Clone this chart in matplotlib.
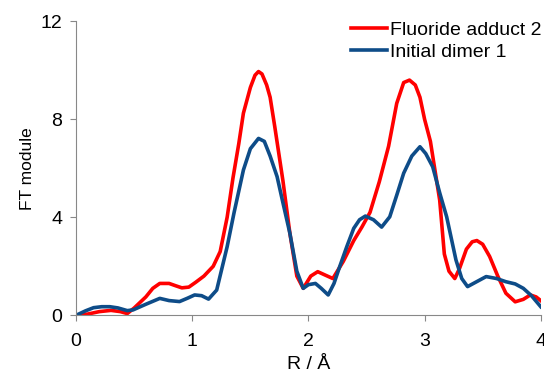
import numpy as np
import matplotlib.pyplot as plt

plt.rcParams['font.family'] = ['Liberation Sans', 'DejaVu Sans']

# Fluoride adduct 2
r_red = [0, 0.1, 0.2, 0.3, 0.38, 0.44, 0.5, 0.6, 0.66, 0.72, 0.8, 0.86, 0.91, 0.97,
         1.03, 1.1, 1.18, 1.24, 1.30, 1.35, 1.40, 1.44, 1.50, 1.54, 1.57, 1.60, 1.64, 1.67, 1.71,
         1.78, 1.84, 1.90, 1.955, 2.02, 2.08, 2.14, 2.21, 2.30, 2.39, 2.46, 2.53, 2.61,
         2.69, 2.76, 2.82, 2.87, 2.92, 2.96, 3.00, 3.05, 3.13, 3.17, 3.21, 3.26, 3.30,
         3.36, 3.41, 3.45, 3.50, 3.56, 3.63, 3.70, 3.78, 3.85, 3.91, 3.96, 4.0]
ft_red = [0, 0.05, 0.15, 0.2, 0.15, 0.07, 0.3, 0.75, 1.1, 1.3, 1.3, 1.2, 1.12, 1.15,
          1.35, 1.6, 2.0, 2.6, 4.0, 5.6, 7.0, 8.25, 9.3, 9.8, 9.95, 9.85, 9.4, 8.9, 7.7,
          5.5, 3.35, 1.6, 1.1, 1.6, 1.78, 1.65, 1.5, 2.2, 3.05, 3.6, 4.2, 5.45,
          6.9, 8.65, 9.5, 9.6, 9.4, 8.9, 8.0, 7.1, 4.7, 2.5, 1.8, 1.5, 1.9,
          2.7, 3.0, 3.05, 2.9, 2.4, 1.6, 0.9, 0.55, 0.65, 0.83, 0.75, 0.6]

# Initial dimer 1
r_blue = [0, 0.08, 0.15, 0.22, 0.29, 0.36, 0.44, 0.49, 0.6, 0.72, 0.8, 0.89, 0.96,
          1.02, 1.08, 1.14, 1.21, 1.3, 1.36, 1.44, 1.5, 1.57, 1.62, 1.67, 1.73, 1.78,
          1.84, 1.9, 1.955, 2.0, 2.06, 2.11, 2.17, 2.22, 2.27, 2.33, 2.39, 2.44, 2.49,
          2.56, 2.63, 2.70, 2.76, 2.82, 2.89, 2.96, 3.01, 3.07, 3.13, 3.19, 3.27, 3.32,
          3.37, 3.44, 3.53, 3.62, 3.70, 3.78, 3.85, 3.92, 4.0]
ft_blue = [0, 0.18, 0.31, 0.35, 0.35, 0.3, 0.19, 0.22, 0.45, 0.69, 0.6, 0.56, 0.7,
           0.83, 0.8, 0.66, 1.03, 2.8, 4.2, 5.93, 6.8, 7.22, 7.1, 6.5, 5.66, 4.6,
           3.35, 1.8, 1.1, 1.25, 1.3, 1.1, 0.83, 1.3, 2.0, 2.8, 3.55, 3.9, 4.05,
           3.9, 3.6, 4.02, 4.9, 5.8, 6.5, 6.88, 6.6, 6.06, 5.0, 4.02, 2.26, 1.5,
           1.17, 1.35, 1.58, 1.5, 1.37, 1.28, 1.1, 0.8, 0.35]

fig = plt.figure(figsize=(5.44, 3.74), dpi=100)
ax = fig.add_axes([0.14, 0.157, 0.854, 0.786])

ax.plot(r_red, ft_red, color='#ff0000', linewidth=2.6, label='Fluoride adduct 2')
ax.plot(r_blue, ft_blue, color='#0e4c88', linewidth=2.6, label='Initial dimer 1')

ax.set_xlim(0, 4)
ax.set_ylim(0, 12)
ax.set_xticks([0, 1, 2, 3, 4])
ax.set_yticks([0, 4, 8, 12])
ax.tick_params(labelsize=14, length=4, color='#888888', direction='out')
ax.tick_params(axis='x', pad=9)
ax.tick_params(axis='y', pad=6)
for s in ['top', 'right']:
    ax.spines[s].set_visible(False)
for s in ['left', 'bottom']:
    ax.spines[s].set_color('#888888')

ax.set_xlabel('R / Å', fontsize=14, labelpad=4)
ax.set_ylabel('FT module', fontsize=12.5, labelpad=4)

ax.legend(loc='upper right', bbox_to_anchor=(542 / 544, 1 - 21 / 374), bbox_transform=fig.transFigure,
          frameon=False, fontsize=14, borderpad=0, borderaxespad=0,
          handlelength=1.85, handletextpad=0.2, labelspacing=0.25)

fig.savefig('out.png', dpi=100)
